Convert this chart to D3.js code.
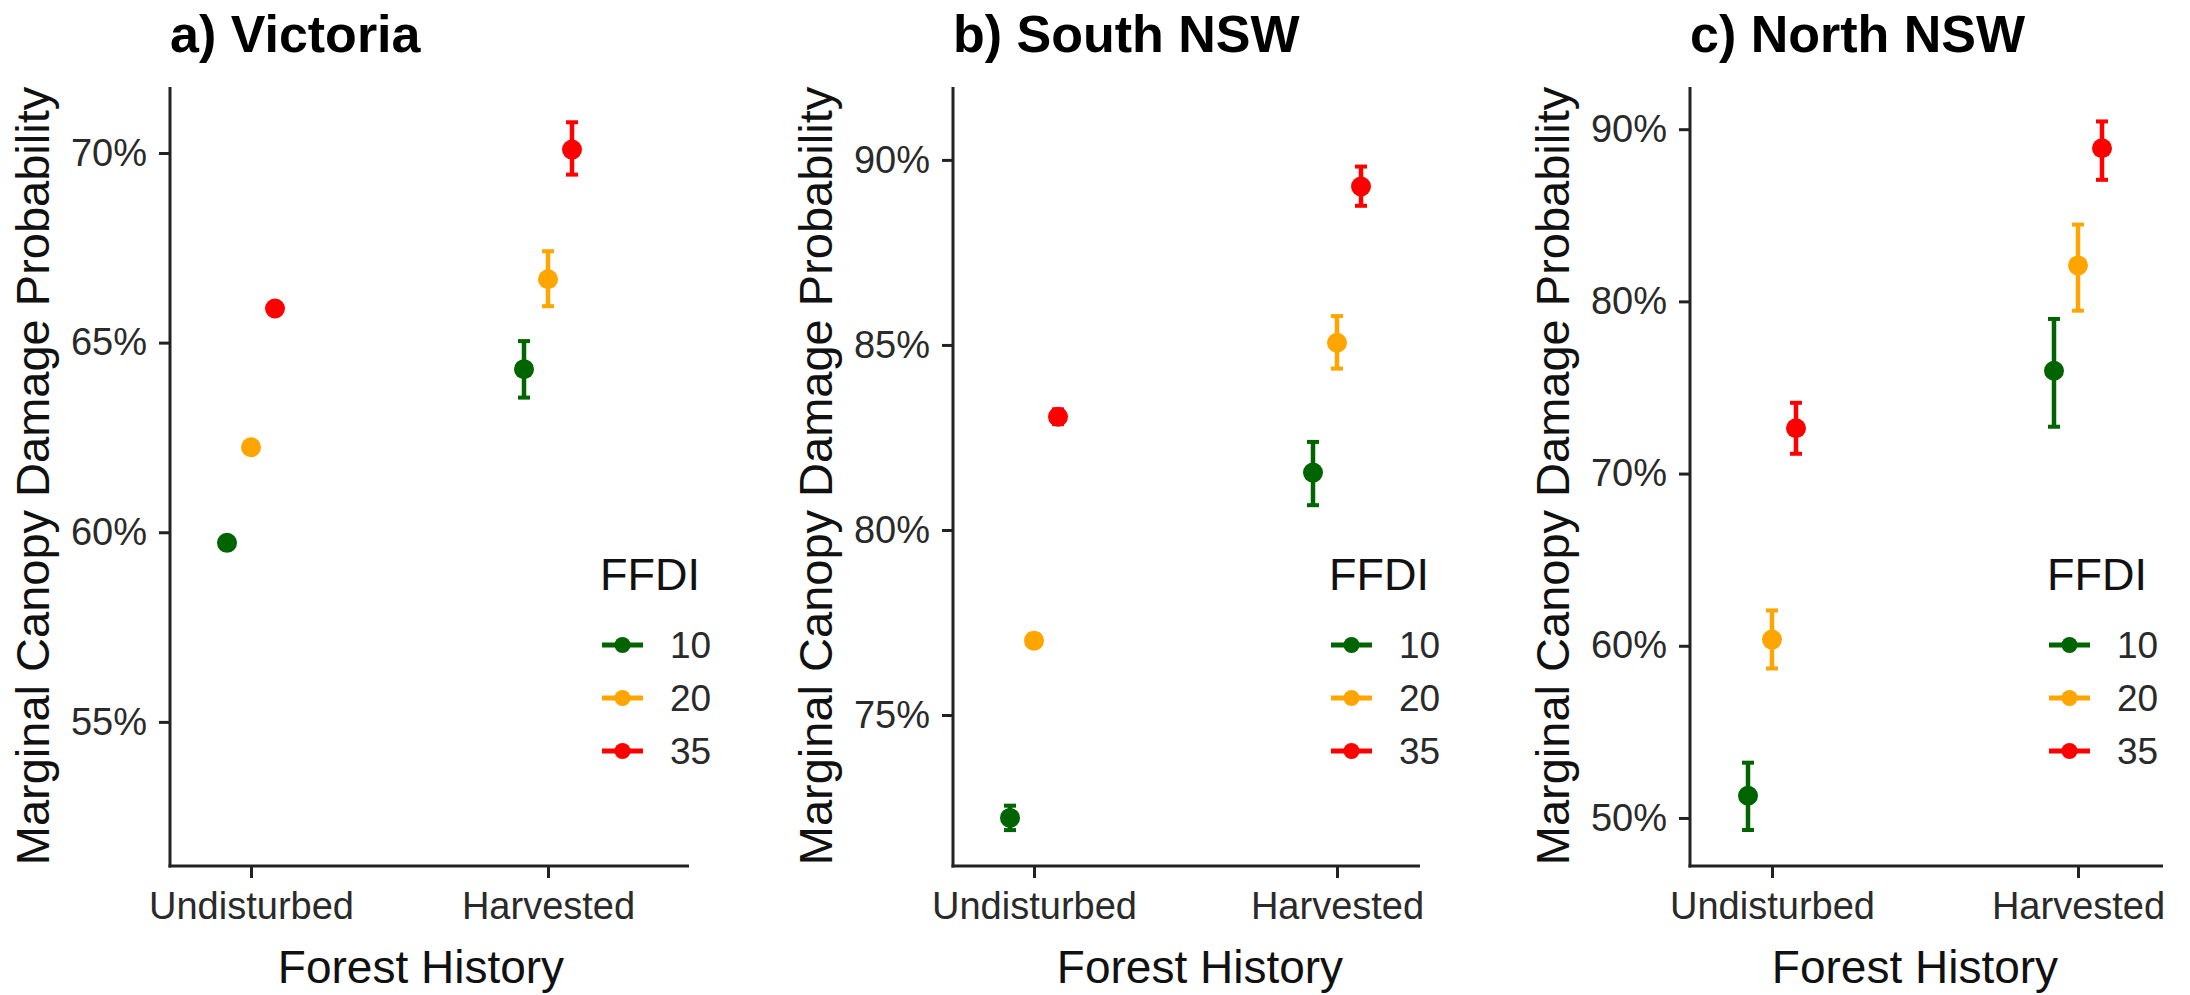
<!DOCTYPE html>
<html>
<head>
<meta charset="utf-8">
<script src="https://cdn.jsdelivr.net/npm/d3@7"></script>
<style>
  body { margin: 0; background: #fff; }
  text { font-family: "Liberation Sans", Arial, Helvetica, sans-serif; }
</style>
</head>
<body>
<script>
// categories
const history = ["Undisturbed", "Harvested"];
const ffdi = ["10", "20", "35"];
const titles = ["a) Victoria", "b) South NSW", "c) North NSW"];

// marginal probability (%), rows = FFDI 10/20/35, cols = Undisturbed/Harvested
const vicMean  = [[59.72, 64.30], [62.24, 66.67], [65.90, 70.09]];
const vicLow   = [[59.60, 63.55], [62.14, 65.96], [65.78, 69.43]];
const vicHigh  = [[59.84, 65.04], [62.34, 67.41], [66.02, 70.81]];

const snswMean = [[72.22, 81.55], [77.01, 85.06], [83.06, 89.28]];
const snswLow  = [[71.89, 80.67], [76.84, 84.36], [82.86, 88.76]];
const snswHigh = [[72.55, 82.38], [77.18, 85.78], [83.26, 89.82]];

const nnswMean = [[51.29, 75.97], [60.36, 82.09], [72.63, 88.89]];
const nnswLow  = [[49.30, 72.72], [58.68, 79.46], [71.15, 87.06]];
const nnswHigh = [[53.21, 78.98], [62.05, 84.46], [74.11, 90.45]];

// y axis limits and tick labels
const vicDomain  = [51.2, 71.74];
const snswDomain = [70.92, 91.97];
const nnswDomain = [47.21, 92.45];
const vicTicks  = [55, 60, 65, 70];
const snswTicks = [75, 80, 85, 90];
const nnswTicks = [50, 60, 70, 80, 90];

var panels = [
  { mean: vicMean,  low: vicLow,  high: vicHigh,  domain: vicDomain,  ticks: vicTicks,
    left: 170, right: 689, u: 251, h: 548, xTitle: 421, yTitle: 49, legend: 600 },
  { mean: snswMean, low: snswLow, high: snswHigh, domain: snswDomain, ticks: snswTicks,
    left: 953, right: 1420, u: 1034, h: 1337, xTitle: 1200, yTitle: 832, legend: 1329 },
  { mean: nnswMean, low: nnswLow, high: nnswHigh, domain: nnswDomain, ticks: nnswTicks,
    left: 1690, right: 2163, u: 1772, h: 2078, xTitle: 1915, yTitle: 1569, legend: 2047 }
];

var plotTop = 87, plotBottom = 866;
var ink = "#222";

var color = d3.scaleOrdinal().domain(ffdi).range(["darkgreen", "orange", "red"]);
var dodge = d3.scalePoint().domain(ffdi).range([-24, 24]);

var svg = d3.select("body").append("svg")
    .attr("width", 2190)
    .attr("height", 995);

panels.forEach(function(p, k) {
  var g = svg.append("g");

  var x = d3.scalePoint().domain(history).range([p.u, p.h]);
  var y = d3.scaleLinear().domain(p.domain).range([plotBottom, plotTop]);

  // title
  g.append("text")
      .attr("x", p.left)
      .attr("y", 52)
      .attr("font-size", 52)
      .attr("font-weight", "bold")
      .attr("fill", "#000")
      .text(titles[k]);

  // axes
  var yAxis = g.append("g")
      .attr("transform", "translate(" + p.left + ",0)")
      .call(d3.axisLeft(y)
            .tickValues(p.ticks)
            .tickFormat(function(d) { return d + "%"; })
            .tickSize(11)
            .tickPadding(12));

  var xAxis = g.append("g")
      .attr("transform", "translate(0," + plotBottom + ")")
      .call(d3.axisBottom(x)
            .tickSize(12)
            .tickPadding(14));

  [yAxis, xAxis].forEach(function(a) {
    a.select(".domain").remove();
    a.selectAll(".tick line").attr("stroke", ink).attr("stroke-width", 3);
    a.selectAll(".tick text")
        .attr("font-size", 38)
        .attr("fill", "#2a2a2a")
        .style("font-family", '"Liberation Sans", Arial, sans-serif');
  });

  g.append("line")
      .attr("x1", p.left).attr("x2", p.left)
      .attr("y1", plotTop).attr("y2", plotBottom + 1.5)
      .attr("stroke", ink).attr("stroke-width", 3);
  g.append("line")
      .attr("x1", p.left - 1.5).attr("x2", p.right)
      .attr("y1", plotBottom).attr("y2", plotBottom)
      .attr("stroke", ink).attr("stroke-width", 3);

  // axis titles
  g.append("text")
      .attr("x", p.xTitle)
      .attr("y", 983)
      .attr("text-anchor", "middle")
      .attr("font-size", 46)
      .attr("fill", "#111")
      .text("Forest History");

  g.append("text")
      .attr("transform", "translate(" + p.yTitle + "," + 476 + ") rotate(-90)")
      .attr("text-anchor", "middle")
      .attr("font-size", 47)
      .attr("fill", "#111")
      .text("Marginal Canopy Damage Probability");

  // points with error bars
  var rows = [];
  ffdi.forEach(function(f, i) {
    history.forEach(function(hname, j) {
      rows.push({ ffdi: f, hist: hname, mean: p.mean[i][j], low: p.low[i][j], high: p.high[i][j] });
    });
  });

  var pts = g.selectAll(".pt")
      .data(rows)
    .enter().append("g")
      .attr("class", "pt")
      .attr("transform", function(d) { return "translate(" + (x(d.hist) + dodge(d.ffdi)) + ",0)"; })
      .attr("stroke", function(d) { return color(d.ffdi); })
      .attr("fill", function(d) { return color(d.ffdi); });

  pts.append("line")
      .attr("y1", function(d) { return y(d.low); })
      .attr("y2", function(d) { return y(d.high); })
      .attr("stroke-width", 4.5);
  pts.append("line")
      .attr("x1", -6).attr("x2", 6)
      .attr("y1", function(d) { return y(d.low); })
      .attr("y2", function(d) { return y(d.low); })
      .attr("stroke-width", 4);
  pts.append("line")
      .attr("x1", -6).attr("x2", 6)
      .attr("y1", function(d) { return y(d.high); })
      .attr("y2", function(d) { return y(d.high); })
      .attr("stroke-width", 4);
  pts.append("circle")
      .attr("cy", function(d) { return y(d.mean); })
      .attr("r", 10)
      .attr("stroke", "none");

  // legend
  var leg = g.append("g");
  leg.append("text")
      .attr("x", p.legend)
      .attr("y", 590)
      .attr("font-size", 45)
      .attr("fill", "#111")
      .text("FFDI");

  var item = leg.selectAll(".item")
      .data(ffdi)
    .enter().append("g")
      .attr("class", "item")
      .attr("transform", function(d, i) { return "translate(" + (p.legend + 2) + "," + (645 + i * 53) + ")"; });

  item.append("line")
      .attr("x1", 0).attr("x2", 41)
      .attr("stroke", function(d) { return color(d); })
      .attr("stroke-width", 5);
  item.append("circle")
      .attr("cx", 20.5)
      .attr("r", 8)
      .attr("fill", function(d) { return color(d); });
  item.append("text")
      .attr("x", 68)
      .attr("dy", "0.36em")
      .attr("font-size", 37)
      .attr("fill", "#2a2a2a")
      .text(function(d) { return d; });
});
</script>
</body>
</html>
